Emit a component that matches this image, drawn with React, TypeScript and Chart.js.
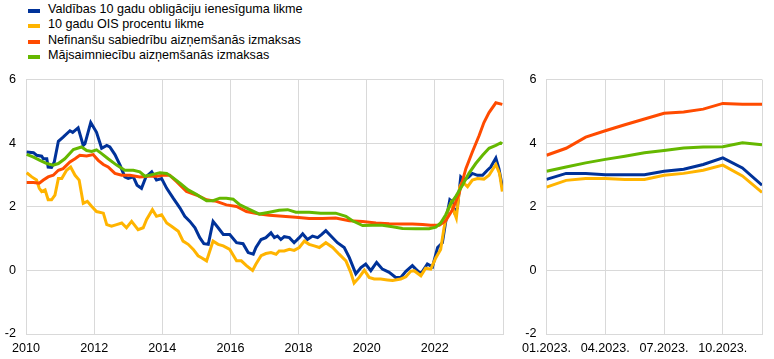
import React, { useEffect, useRef } from 'react';
import { Chart, registerables } from 'chart.js';

Chart.register(...registerables);

const FONT_FAMILY = "'Liberation Sans', Arial, sans-serif";
const FONT_SIZE = 12.6;
const GRID = '#d9d9d9';

const seriesNames = [
  'Valdības 10 gadu obligāciju ienesīguma likme',
  '10 gadu OIS procentu likme',
  'Nefinanšu sabiedrību aizņemšanās izmaksas',
  'Mājsaimniecību aizņemšanās izmaksas',
];
const seriesColors = ['#003299', '#ffb400', '#ff4b00', '#65b800'];

// Left panel: long history (decimal years)
const govX = [2010.02, 2010.22, 2010.31, 2010.46, 2010.51, 2010.61, 2010.65, 2010.75, 2010.83, 2010.95, 2011.09, 2011.29, 2011.37, 2011.53, 2011.68, 2011.73, 2011.9, 2012.07, 2012.22, 2012.37, 2012.46, 2012.61, 2012.76, 2012.9, 2013.0, 2013.15, 2013.26, 2013.39, 2013.52, 2013.69, 2013.83, 2013.98, 2014.13, 2014.32, 2014.52, 2014.66, 2014.81, 2014.96, 2015.1, 2015.22, 2015.35, 2015.49, 2015.64, 2015.79, 2015.98, 2016.18, 2016.37, 2016.52, 2016.67, 2016.75, 2016.9, 2017.04, 2017.19, 2017.29, 2017.38, 2017.48, 2017.58, 2017.73, 2017.87, 2018.02, 2018.12, 2018.26, 2018.41, 2018.56, 2018.68, 2018.8, 2018.95, 2019.14, 2019.34, 2019.49, 2019.68, 2019.83, 2019.97, 2020.12, 2020.29, 2020.46, 2020.66, 2020.85, 2021.0, 2021.15, 2021.34, 2021.44, 2021.59, 2021.78, 2021.93, 2022.08, 2022.22, 2022.32, 2022.44, 2022.5, 2022.57, 2022.66, 2022.76, 2022.86, 2023.0, 2023.1, 2023.25, 2023.4, 2023.54, 2023.64, 2023.79, 2023.88, 2023.98];
const govY = [3.72, 3.7, 3.62, 3.59, 3.51, 3.51, 3.25, 3.24, 3.41, 4.06, 4.19, 4.39, 4.34, 4.48, 3.93, 3.98, 4.65, 4.34, 3.84, 3.93, 3.88, 3.64, 3.31, 2.94, 2.89, 2.94, 2.68, 2.58, 2.94, 3.1, 2.84, 2.89, 2.58, 2.27, 1.96, 1.7, 1.54, 1.34, 1.03, 0.84, 0.82, 1.54, 1.34, 1.13, 1.13, 0.87, 0.84, 0.56, 0.51, 0.72, 0.97, 1.03, 1.18, 1.03, 1.08, 0.97, 1.06, 1.03, 0.87, 1.03, 1.15, 0.97, 1.08, 1.03, 1.13, 1.25, 1.08, 0.87, 0.72, 0.4, -0.11, 0.09, 0.2, -0.01, 0.25, 0.04, -0.06, -0.22, -0.22, -0.03, 0.15, 0.04, -0.11, 0.2, 0.11, 0.72, 0.87, 1.54, 2.22, 2.17, 1.85, 1.96, 2.94, 2.84, 2.94, 3.05, 2.99, 2.99, 3.15, 3.25, 3.53, 3.2, 2.63];

const oisX = [2010.02, 2010.17, 2010.31, 2010.39, 2010.46, 2010.56, 2010.65, 2010.75, 2010.85, 2010.95, 2011.05, 2011.19, 2011.31, 2011.44, 2011.56, 2011.68, 2011.8, 2011.93, 2012.07, 2012.27, 2012.37, 2012.51, 2012.66, 2012.81, 2012.95, 2013.1, 2013.29, 2013.44, 2013.54, 2013.71, 2013.83, 2013.98, 2014.13, 2014.27, 2014.47, 2014.61, 2014.76, 2014.91, 2015.05, 2015.15, 2015.3, 2015.49, 2015.64, 2015.79, 2015.98, 2016.18, 2016.32, 2016.47, 2016.65, 2016.75, 2016.9, 2017.04, 2017.19, 2017.34, 2017.43, 2017.58, 2017.73, 2017.87, 2018.02, 2018.17, 2018.31, 2018.46, 2018.61, 2018.8, 2019.0, 2019.19, 2019.39, 2019.53, 2019.63, 2019.78, 2019.93, 2020.07, 2020.22, 2020.41, 2020.61, 2020.76, 2021.0, 2021.15, 2021.29, 2021.39, 2021.59, 2021.73, 2021.88, 2022.03, 2022.17, 2022.27, 2022.37, 2022.47, 2022.54, 2022.63, 2022.73, 2022.81, 2022.96, 2023.1, 2023.25, 2023.44, 2023.59, 2023.79, 2023.9, 2023.98];
const oisY = [3.07, 2.94, 2.84, 2.58, 2.48, 2.53, 2.22, 2.22, 2.37, 2.89, 2.89, 3.15, 3.25, 2.99, 2.84, 2.11, 2.17, 2.01, 1.85, 1.8, 1.44, 1.39, 1.44, 1.49, 1.34, 1.54, 1.28, 1.34, 1.6, 1.91, 1.7, 1.75, 1.49, 1.39, 1.23, 0.92, 0.82, 0.66, 0.46, 0.4, 0.3, 0.92, 0.82, 0.77, 0.66, 0.3, 0.3, 0.15, 0.0, 0.2, 0.46, 0.53, 0.56, 0.51, 0.61, 0.61, 0.66, 0.63, 0.72, 0.92, 0.82, 0.77, 0.72, 0.87, 0.72, 0.51, 0.3, -0.06, -0.4, -0.22, 0.01, -0.22, -0.27, -0.27, -0.3, -0.32, -0.27, -0.2, -0.03, -0.01, -0.17, 0.07, 0.04, 0.4, 0.66, 1.34, 1.85, 2.11, 1.91, 1.65, 2.63, 2.79, 2.63, 2.84, 2.89, 2.87, 2.99, 3.33, 3.04, 2.48];

const nfcX = [2010.02, 2010.22, 2010.39, 2010.51, 2010.65, 2010.8, 2010.95, 2011.09, 2011.29, 2011.44, 2011.58, 2011.78, 2011.97, 2012.12, 2012.27, 2012.41, 2012.61, 2012.81, 2013.05, 2013.34, 2013.59, 2013.83, 2014.03, 2014.22, 2014.42, 2014.71, 2015.0, 2015.3, 2015.59, 2015.88, 2016.18, 2016.47, 2016.85, 2017.14, 2017.53, 2017.92, 2018.31, 2018.7, 2019.09, 2019.49, 2019.88, 2020.27, 2020.66, 2021.05, 2021.34, 2021.64, 2021.88, 2022.13, 2022.32, 2022.52, 2022.71, 2022.91, 2023.1, 2023.3, 2023.44, 2023.59, 2023.79, 2023.98];
const nfcY = [2.76, 2.76, 2.74, 2.84, 2.94, 2.99, 3.15, 3.2, 3.41, 3.51, 3.62, 3.6, 3.64, 3.46, 3.33, 3.25, 3.05, 2.99, 2.99, 2.94, 2.96, 2.96, 2.99, 2.99, 2.79, 2.48, 2.37, 2.22, 2.17, 2.06, 2.01, 1.85, 1.77, 1.73, 1.7, 1.67, 1.63, 1.63, 1.65, 1.56, 1.54, 1.49, 1.47, 1.46, 1.46, 1.44, 1.42, 1.42, 1.56, 1.91, 2.42, 3.2, 3.72, 4.24, 4.65, 4.96, 5.27, 5.22];

const hhX = [2010.02, 2010.22, 2010.41, 2010.61, 2010.8, 2010.95, 2011.14, 2011.39, 2011.63, 2011.78, 2011.93, 2012.07, 2012.22, 2012.41, 2012.66, 2012.9, 2013.15, 2013.34, 2013.49, 2013.73, 2013.93, 2014.13, 2014.32, 2014.52, 2014.76, 2015.0, 2015.3, 2015.49, 2015.69, 2015.88, 2016.08, 2016.28, 2016.57, 2016.85, 2017.14, 2017.43, 2017.68, 2017.92, 2018.31, 2018.65, 2019.09, 2019.39, 2019.58, 2019.88, 2020.17, 2020.46, 2020.76, 2021.05, 2021.44, 2021.83, 2022.03, 2022.17, 2022.32, 2022.47, 2022.61, 2022.81, 2023.0, 2023.2, 2023.4, 2023.59, 2023.79, 2023.93, 2023.98];
const hhY = [3.65, 3.56, 3.46, 3.36, 3.31, 3.36, 3.51, 3.8, 3.88, 3.77, 3.74, 3.79, 3.67, 3.51, 3.31, 3.15, 3.15, 3.1, 2.96, 3.02, 3.07, 3.05, 2.91, 2.74, 2.53, 2.39, 2.19, 2.19, 2.27, 2.27, 2.24, 2.06, 1.91, 1.77, 1.83, 1.89, 1.91, 1.83, 1.83, 1.8, 1.8, 1.7, 1.56, 1.41, 1.42, 1.42, 1.37, 1.32, 1.31, 1.31, 1.36, 1.49, 1.75, 2.11, 2.32, 2.68, 3.05, 3.36, 3.62, 3.84, 3.93, 4.01, 3.98];

const leftTickYears = [2010, 2012, 2014, 2016, 2018, 2020, 2022];
const leftXMin = 2010;
const leftXMax = 2024;

// Right panel: 2023 monthly
const months2023 = ['01.2023.', '02.2023.', '03.2023.', '04.2023.', '05.2023.', '06.2023.', '07.2023.', '08.2023.', '09.2023.', '10.2023.', '11.2023.', '12.2023.'];
const rightLabelMonths = [0, 3, 6, 9];
const gov2023 = [2.86, 3.05, 3.05, 3.01, 3.01, 3.01, 3.12, 3.18, 3.33, 3.54, 3.22, 2.68];
const ois2023 = [2.62, 2.83, 2.89, 2.89, 2.86, 2.86, 2.99, 3.05, 3.15, 3.31, 2.97, 2.45];
const nfc2023 = [3.62, 3.84, 4.19, 4.39, 4.58, 4.76, 4.94, 4.98, 5.07, 5.25, 5.22, 5.22];
const hh2023 = [3.12, 3.25, 3.38, 3.49, 3.59, 3.7, 3.77, 3.85, 3.88, 3.89, 4.01, 3.95];

const yTicks = [-2, 0, 2, 4, 6];

const font = { family: FONT_FAMILY, size: FONT_SIZE };

function zip(xs: number[], ys: number[]) {
  return xs.map((x, i) => ({ x, y: ys[i] }));
}

function makeDatasets(series: { x: number; y: number }[][]) {
  // draw order: first dataset on top -> green, orange, yellow, blue
  const order = [3, 2, 1, 0];
  return order.map((i) => ({
    label: seriesNames[i],
    data: series[i],
    borderColor: seriesColors[i],
    backgroundColor: seriesColors[i],
    borderWidth: 3,
    pointRadius: 0,
    tension: 0,
    fill: false,
  }));
}

function yScale(width: number) {
  return {
    type: 'linear' as const,
    min: -2,
    max: 6,
    afterBuildTicks: (s: any) => {
      s.ticks = yTicks.map((v) => ({ value: v }));
    },
    afterFit: (s: any) => {
      s.width = width;
    },
    ticks: { font, color: '#000', padding: 10 },
    grid: { color: GRID, drawTicks: false, lineWidth: 1 },
    border: { color: GRID, width: 1 },
  };
}

export default function App() {
  const leftRef = useRef<HTMLCanvasElement>(null);
  const rightRef = useRef<HTMLCanvasElement>(null);

  useEffect(() => {
    const left = new Chart(leftRef.current!, {
      type: 'line',
      data: {
        datasets: makeDatasets([zip(govX, govY), zip(oisX, oisY), zip(nfcX, nfcY), zip(hhX, hhY)]) as any,
      },
      options: {
        animation: false,
        responsive: false,
        layout: { padding: { left: 0, right: 6, top: 15, bottom: 0 } },
        plugins: { legend: { display: false }, tooltip: { enabled: false } },
        scales: {
          x: {
            type: 'linear',
            min: leftXMin,
            max: leftXMax,
            afterBuildTicks: (s: any) => {
              s.ticks = [...leftTickYears, leftXMax].map((v) => ({ value: v }));
            },
            afterFit: (s: any) => {
              s.height = 25;
            },
            ticks: {
              font,
              color: '#000',
              padding: 7,
              maxRotation: 0,
              autoSkip: false,
              callback: (v: any) => (leftTickYears.includes(Number(v)) ? String(v) : ''),
            },
            grid: { color: GRID, drawTicks: false, lineWidth: 1 },
            border: { color: GRID, width: 1 },
          },
          y: yScale(26) as any,
        },
      },
    });

    const right = new Chart(rightRef.current!, {
      type: 'line',
      data: {
        datasets: makeDatasets([
          zip(months2023.map((_, i) => i), gov2023),
          zip(months2023.map((_, i) => i), ois2023),
          zip(months2023.map((_, i) => i), nfc2023),
          zip(months2023.map((_, i) => i), hh2023),
        ]) as any,
      },
      options: {
        animation: false,
        responsive: false,
        layout: { padding: { left: 0, right: 12, top: 15, bottom: 0 } },
        plugins: { legend: { display: false }, tooltip: { enabled: false } },
        scales: {
          x: {
            type: 'linear',
            min: 0,
            max: months2023.length - 1,
            afterBuildTicks: (s: any) => {
              s.ticks = [...rightLabelMonths, months2023.length - 1].map((v) => ({ value: v }));
            },
            afterFit: (s: any) => {
              s.height = 25;
            },
            ticks: {
              font,
              color: '#000',
              padding: 7,
              maxRotation: 0,
              autoSkip: false,
              callback: (v: any) => (rightLabelMonths.includes(Number(v)) ? months2023[Number(v)] : ''),
            },
            grid: { color: GRID, drawTicks: false, lineWidth: 1 },
            border: { color: GRID, width: 1 },
          },
          y: yScale(28) as any,
        },
      },
    });

    return () => {
      left.destroy();
      right.destroy();
    };
  }, []);

  return (
    <div style={{ position: 'fixed', left: 0, top: 0, width: 774, height: 359, background: '#fff', fontFamily: FONT_FAMILY, overflow: 'hidden' }}>
      {seriesNames.map((name, i) => (
        <div key={name} style={{ position: 'absolute', left: 28, top: 2 + i * 15.3, height: 15, display: 'flex', alignItems: 'center', whiteSpace: 'nowrap' }}>
          <span style={{ display: 'inline-block', width: 12, height: 4, background: seriesColors[i], marginTop: 3 }} />
          <span style={{ marginLeft: 8, fontSize: FONT_SIZE, color: '#000', lineHeight: '15px' }}>{name}</span>
        </div>
      ))}
      <canvas ref={leftRef} width={510} height={297} style={{ position: 'absolute', left: 0, top: 62, width: 510, height: 297 }} />
      <canvas ref={rightRef} width={259} height={297} style={{ position: 'absolute', left: 515, top: 62, width: 259, height: 297 }} />
    </div>
  );
}
